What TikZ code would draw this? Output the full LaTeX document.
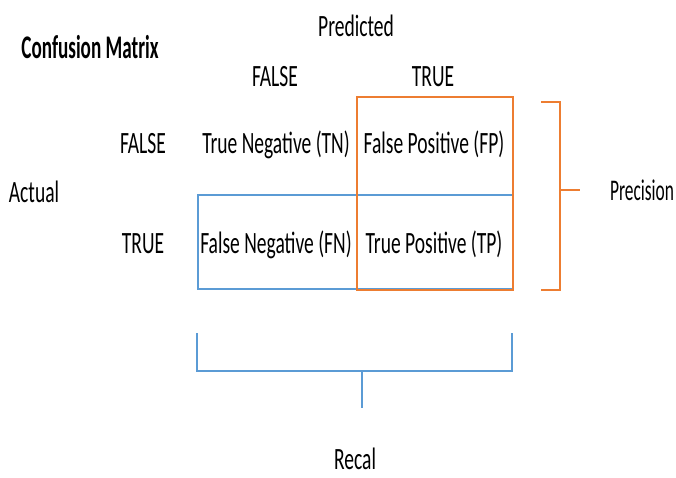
\documentclass[tikz,border=0pt]{standalone}
\usepackage{fontspec}
\setmainfont[FakeStretch=0.63]{Carlito}
\newfontfamily\titlefont[FakeStretch=0.58]{Carlito}
\newfontfamily\narrowfont[FakeStretch=0.58]{Carlito}
\definecolor{offorange}{RGB}{237,125,49}
\definecolor{offblue}{RGB}{91,155,213}
\begin{document}
\begin{tikzpicture}[x=1pt,y=-1pt,
  lbl/.style={font=\fontsize{31}{33}\selectfont, inner sep=0pt, anchor=base},
  narrowlbl/.style={font=\narrowfont\fontsize{30}{32}\selectfont, inner sep=0pt, anchor=base},
  title/.style={font=\titlefont\fontsize{33}{35}\selectfont\bfseries, inner sep=0pt, anchor=base},
  bluebox/.style={draw=offblue, line width=2.2pt},
  orangebox/.style={draw=offorange, line width=2.2pt}]
\useasboundingbox (0,0) rectangle (676,477);
% boxes
\draw[bluebox] (198,195) rectangle (513,289);
\draw[orangebox] (357,97) rectangle (513,290);
% precision bracket
\coordinate (pt) at (541,102);
\coordinate (pb) at (541,290);
\coordinate (pm) at (560,190);
\coordinate (pk) at (580,190);
\draw[orangebox] (pt) -- (560,102) -- (560,290) -- (pb);
\draw[orangebox] (pm) -- (pk);
% recall bracket
\coordinate (rl) at (197,333);
\coordinate (rr) at (512,333);
\coordinate (rm) at (362,371);
\coordinate (rk) at (362,408);
\draw[bluebox] (rl) -- (197,371) -- (512,371) -- (rr);
\draw[bluebox] (rm) -- (rk);
% texts
\node[title] (cm) at (90,58) {Confusion Matrix};
\node[lbl] (pred) at (356,36) {Predicted};
\node[lbl] (cf) at (275,86) {FALSE};
\node[lbl] (ct) at (433,86) {TRUE};
\node[lbl] (rf) at (143,153) {FALSE};
\node[lbl] (rt) at (143,253) {TRUE};
\node[lbl] (act) at (34,202) {Actual};
\node[narrowlbl] (prec) at (642,200) {Precision};
\node[lbl] (rec) at (355,469) {Recal};
\node[lbl] (tn) at (276,153) {True Negative (TN)};
\node[lbl] (fp) at (434,153) {False Positive (FP)};
\node[lbl] (fn) at (276,253) {False Negative (FN)};
\node[lbl] (tp) at (434,253) {True Positive (TP)};
\end{tikzpicture}
\end{document}
